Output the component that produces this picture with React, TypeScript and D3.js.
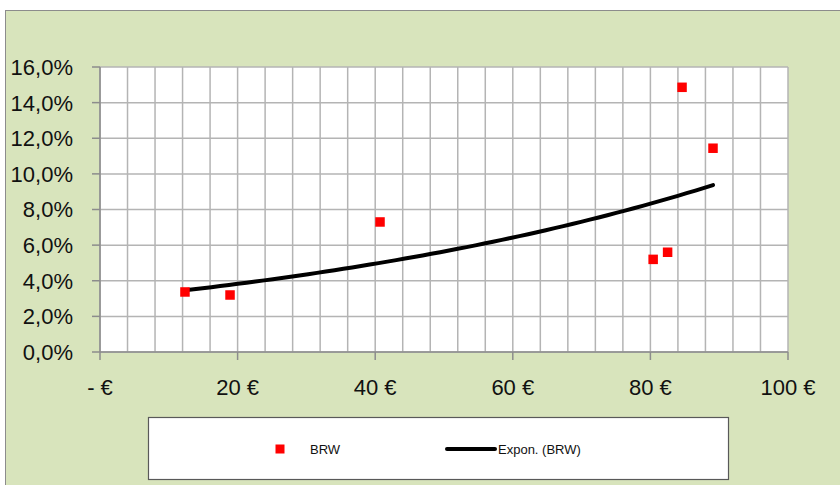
import { useEffect, useRef } from "react";
import * as d3 from "d3";

// BRW: price (€) vs rate (%)
const PRICES = [12.35, 18.9, 40.7, 80.4, 82.5, 84.6, 89.1];
const RATES = [3.37, 3.2, 7.3, 5.2, 5.6, 14.86, 11.44];

const X_TICKS = [0, 20, 40, 60, 80, 100];
const X_MINOR = d3.range(0, 101, 4);
const Y_TICKS = [0, 2, 4, 6, 8, 10, 12, 14, 16];

const SERIES_LABEL = "BRW";
const TREND_LABEL = "Expon. (BRW)";

const W = 840;
const H = 485;
const PLOT = { left: 100, right: 788, top: 67, bottom: 352 };
const FONT = "'Liberation Sans', Arial, sans-serif";

function fmtPct(v: number) {
  return v.toFixed(1).replace(".", ",") + "%";
}
function fmtEur(v: number) {
  return v === 0 ? "- €" : `${v} €`;
}

// exponential least-squares fit (like Excel's trendline)
function expFit(xs: number[], ys: number[]) {
  const ly = ys.map((y) => Math.log(y));
  const mx = d3.mean(xs)!;
  const my = d3.mean(ly)!;
  let sxy = 0;
  let sxx = 0;
  xs.forEach((x, i) => {
    sxy += (x - mx) * (ly[i] - my);
    sxx += (x - mx) * (x - mx);
  });
  const b = sxy / sxx;
  const a = my - b * mx;
  return (x: number) => Math.exp(a + b * x);
}

function draw(svgEl: SVGSVGElement) {
  const svg = d3.select(svgEl);
  svg.selectAll("*").remove();

  const x = d3.scaleLinear().domain([0, 100]).range([PLOT.left, PLOT.right]);
  const y = d3.scaleLinear().domain([0, 16]).range([PLOT.bottom, PLOT.top]);

  // chart background
  svg.append("rect")
    .attr("x", 5.5).attr("y", 10.5)
    .attr("width", W).attr("height", H)
    .attr("fill", "#d8e4bc")
    .attr("stroke", "#8c8c8c").attr("stroke-width", 1);

  // plot area
  svg.append("rect")
    .attr("x", PLOT.left).attr("y", PLOT.top)
    .attr("width", PLOT.right - PLOT.left).attr("height", PLOT.bottom - PLOT.top)
    .attr("fill", "#ffffff");

  // minor vertical gridlines
  X_MINOR.forEach((v) => {
    svg.append("line")
      .attr("x1", x(v)).attr("x2", x(v))
      .attr("y1", PLOT.top).attr("y2", PLOT.bottom)
      .attr("stroke", "#b4b4b4").attr("stroke-width", 1.5);
  });

  // horizontal gridlines
  Y_TICKS.forEach((v) => {
    svg.append("line")
      .attr("x1", PLOT.left).attr("x2", PLOT.right)
      .attr("y1", y(v)).attr("y2", y(v))
      .attr("stroke", "#b4b4b4").attr("stroke-width", 1.5);
  });

  // axes
  svg.append("line")
    .attr("x1", PLOT.left).attr("x2", PLOT.left)
    .attr("y1", PLOT.top).attr("y2", PLOT.bottom)
    .attr("stroke", "#8c8c8c").attr("stroke-width", 1.5);
  svg.append("line")
    .attr("x1", PLOT.left).attr("x2", PLOT.right)
    .attr("y1", PLOT.bottom).attr("y2", PLOT.bottom)
    .attr("stroke", "#8c8c8c").attr("stroke-width", 1.5);

  // y ticks + labels
  Y_TICKS.forEach((v) => {
    svg.append("line")
      .attr("x1", PLOT.left - 8).attr("x2", PLOT.left)
      .attr("y1", y(v)).attr("y2", y(v))
      .attr("stroke", "#8c8c8c").attr("stroke-width", 1.5);
    svg.append("text")
      .attr("x", 73).attr("y", y(v))
      .attr("dy", "0.36em")
      .attr("text-anchor", "end")
      .attr("font-family", FONT).attr("font-size", 22)
      .attr("fill", "#111")
      .text(fmtPct(v));
  });

  // x ticks + labels
  X_TICKS.forEach((v) => {
    svg.append("line")
      .attr("x1", x(v)).attr("x2", x(v))
      .attr("y1", PLOT.bottom).attr("y2", PLOT.bottom + 8)
      .attr("stroke", "#8c8c8c").attr("stroke-width", 1.5);
    svg.append("text")
      .attr("x", x(v)).attr("y", 395)
      .attr("text-anchor", "middle")
      .attr("font-family", FONT).attr("font-size", 22)
      .attr("fill", "#111")
      .text(fmtEur(v));
  });

  // trendline
  const f = expFit(PRICES, RATES);
  const [x0, x1] = d3.extent(PRICES) as [number, number];
  const pts = d3.range(0, 61).map((i) => x0 + ((x1 - x0) * i) / 60);
  const line = d3.line<number>().x((d) => x(d)).y((d) => y(f(d)));
  svg.append("path")
    .attr("d", line(pts))
    .attr("fill", "none")
    .attr("stroke", "#000").attr("stroke-width", 4)
    .attr("stroke-linecap", "round");

  // points
  const S = 9.5;
  PRICES.forEach((p, i) => {
    svg.append("rect")
      .attr("x", x(p) - S / 2).attr("y", y(RATES[i]) - S / 2)
      .attr("width", S).attr("height", S)
      .attr("fill", "#ff0000");
  });

  // legend
  const lg = svg.append("g");
  lg.append("rect")
    .attr("x", 148.5).attr("y", 417.5)
    .attr("width", 580).attr("height", 62)
    .attr("fill", "#fff")
    .attr("stroke", "#595959").attr("stroke-width", 1.2);
  lg.append("rect")
    .attr("x", 275.5).attr("y", 444.5)
    .attr("width", 9).attr("height", 9)
    .attr("fill", "#ff0000");
  lg.append("text")
    .attr("x", 310).attr("y", 449).attr("dy", "0.36em")
    .attr("font-family", FONT).attr("font-size", 13)
    .attr("fill", "#111")
    .text(SERIES_LABEL);
  lg.append("line")
    .attr("x1", 447).attr("x2", 495)
    .attr("y1", 449).attr("y2", 449)
    .attr("stroke", "#000").attr("stroke-width", 4)
    .attr("stroke-linecap", "round");
  lg.append("text")
    .attr("x", 498).attr("y", 449).attr("dy", "0.36em")
    .attr("font-family", FONT).attr("font-size", 13)
    .attr("fill", "#111")
    .text(TREND_LABEL);
}

export default function App() {
  const ref = useRef<SVGSVGElement>(null);

  useEffect(() => {
    if (ref.current) draw(ref.current);
  }, []);

  return (
    <svg
      ref={ref}
      width={W}
      height={H}
      style={{ position: "absolute", left: 0, top: 0, background: "#ffffff" }}
    />
  );
}
